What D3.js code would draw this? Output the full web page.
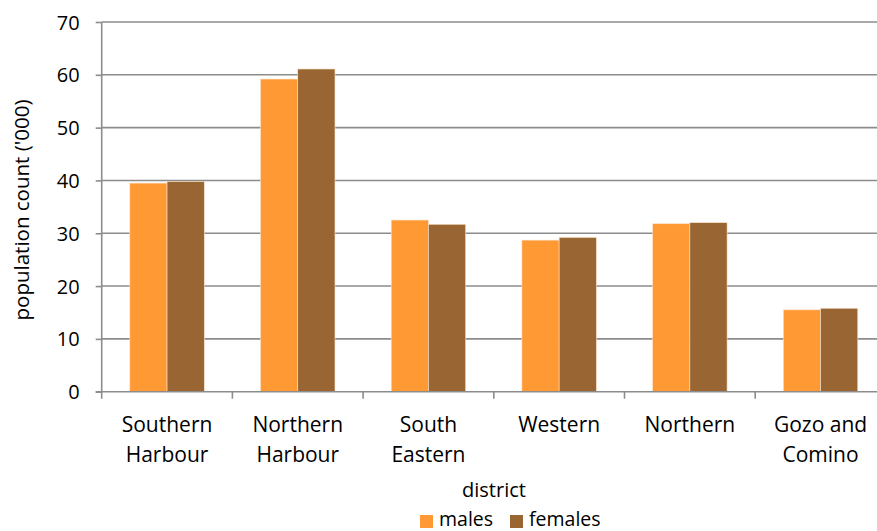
<!DOCTYPE html>
<html><head><meta charset="utf-8">
<script src="https://cdn.jsdelivr.net/npm/d3@7"></script>
<style>body{margin:0;background:#fff}svg{display:block}text{font-family:"Open Sans",sans-serif;fill:#000}</style>
</head><body>
<svg id="c" width="877" height="531"></svg>
<script>
const districts = [["Southern","Harbour"],["Northern","Harbour"],["South","Eastern"],["Western"],["Northern"],["Gozo and","Comino"]];
const seriesNames = ["males","females"];
const males = [39.5, 59.2, 32.5, 28.7, 31.8, 15.5];
const females = [39.8, 61.1, 31.7, 29.2, 32.0, 15.8];
const yTicks = [0,10,20,30,40,50,60,70];
const colors = ["#FF9933","#996633"];

const svg = d3.select("#c");
const left = 101.7, step = 130.7, y0 = 391.7, yTop = 22;
const keys = districts.map((d,i)=>i);
const x0 = d3.scaleBand().domain(keys).range([left, left + step*districts.length]).padding(0);
const x1 = d3.scaleBand().domain(seriesNames).range([0, x0.bandwidth()]).paddingInner(0).paddingOuter(0.755);
const y = d3.scaleLinear().domain([0,70]).range([y0, yTop]);
const values = [males, females];

// gridlines
svg.append("g").selectAll("line").data(yTicks.filter(t=>t>0)).join("line")
  .attr("x1", left).attr("x2", 877).attr("y1", d=>y(d)).attr("y2", d=>y(d))
  .attr("stroke","#8c8c8c").attr("stroke-width",1.6);

// bars
const g = svg.append("g");
keys.forEach(i=>{
  seriesNames.forEach((s,j)=>{
    g.append("rect").attr("x", x0(i)+x1(s)).attr("width", x1.bandwidth())
      .attr("y", y(values[j][i])).attr("height", y0 - y(values[j][i]))
      .attr("fill", colors[j]).attr("stroke","#fbe3cc").attr("stroke-width",0.6);
  });
});

// y axis
const ya = svg.append("g").attr("transform",`translate(${left},0)`)
  .call(d3.axisLeft(y).tickValues(yTicks).tickSize(6).tickPadding(10).tickFormat(d3.format("d")));
ya.select(".domain").attr("stroke","#8c8c8c").attr("stroke-width",1.6).attr("d",`M0,${y0}V${yTop}`);
ya.selectAll(".tick line").attr("stroke","#8c8c8c").attr("stroke-width",1.6);
ya.selectAll(".tick text").attr("font-size",20).attr("font-family","Open Sans").attr("fill","#000").attr("dy","0.35em").attr("x",-22);

// x axis line and ticks
svg.append("line").attr("x1",left-6).attr("x2",877).attr("y1",y0).attr("y2",y0).attr("stroke","#8c8c8c").attr("stroke-width",1.6);
svg.append("g").selectAll("line").data(keys).join("line")
  .attr("x1",d=>x0(d)).attr("x2",d=>x0(d)).attr("y1",y0).attr("y2",y0+7)
  .attr("stroke","#8c8c8c").attr("stroke-width",1.6);

// category labels
const lab = svg.append("g");
keys.forEach(i=>{
  const t = lab.append("text").attr("text-anchor","middle").attr("font-size",21)
    .attr("x", x0(i)+x0.bandwidth()/2).attr("y", 432);
  districts[i].forEach((line,k)=>t.append("tspan").attr("x", x0(i)+x0.bandwidth()/2).attr("dy", k===0?0:30).text(line));
});

// axis titles
svg.append("text").attr("text-anchor","middle").attr("font-size",20.5)
  .attr("transform","translate(29,210) rotate(-90)").text("population count ('000)");
svg.append("text").attr("text-anchor","middle").attr("font-size",20).attr("x",494).attr("y",497).text("district");

// legend
const leg = svg.append("g");
const legX = [420, 510];
seriesNames.forEach((s,j)=>{
  leg.append("rect").attr("x",legX[j]).attr("y",515).attr("width",13).attr("height",13).attr("fill",colors[j]);
  leg.append("text").attr("x",legX[j]+19).attr("y",526).attr("font-size",19.5).text(s);
});
</script>
</body></html>
